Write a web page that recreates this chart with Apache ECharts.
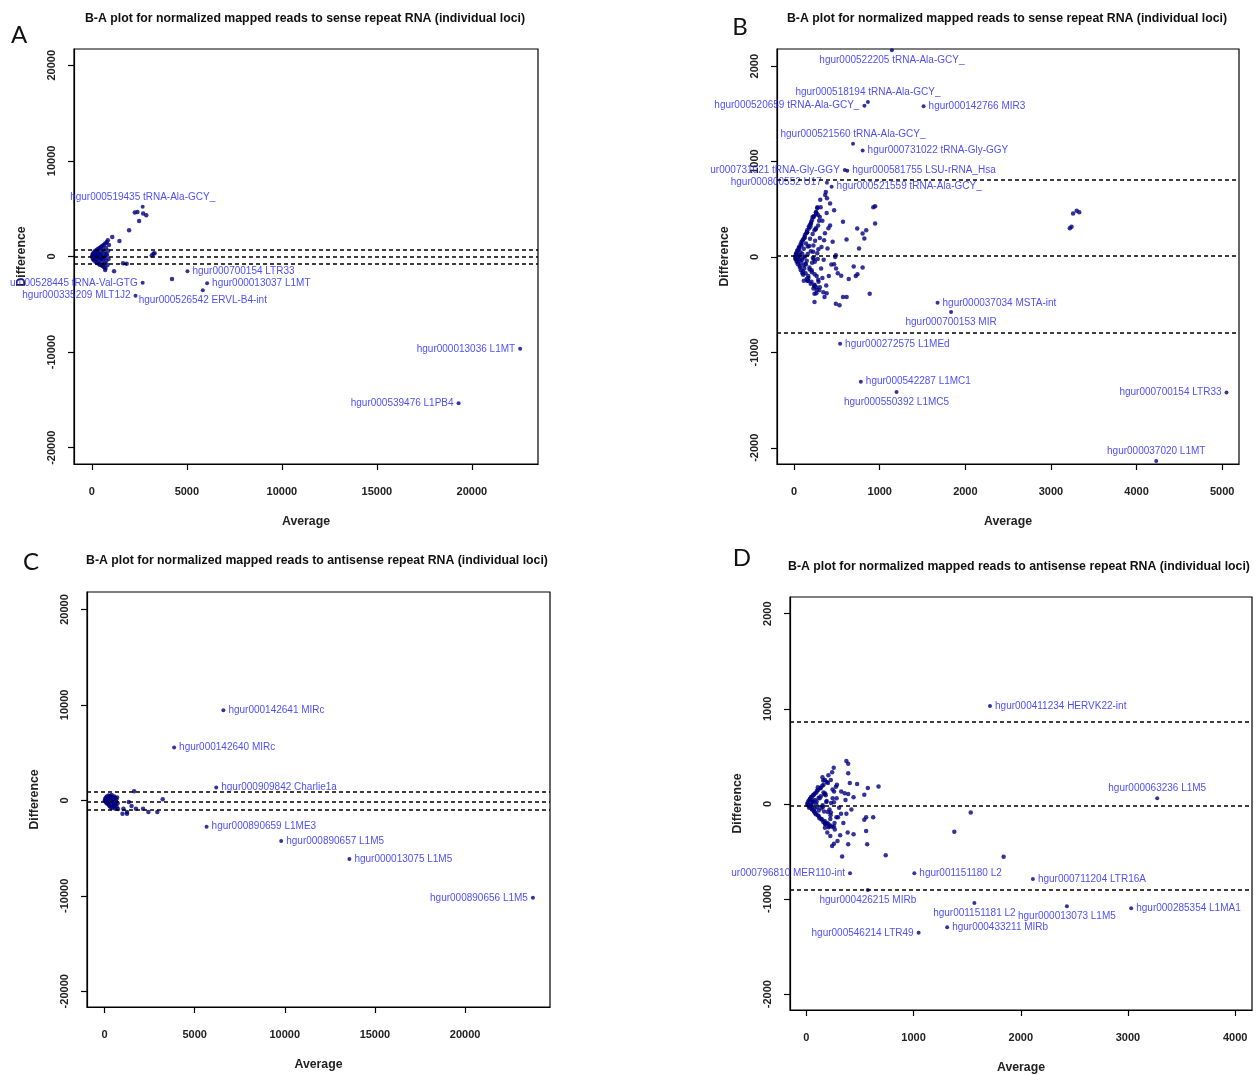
<!DOCTYPE html>
<html>
<head>
<meta charset="utf-8">
<title>B-A plots</title>
<script src="https://cdn.jsdelivr.net/npm/echarts@6/dist/echarts.min.js"></script>
<style>
  html, body { margin:0; padding:0; background:#fff; }
  #main { width:1260px; height:1075px; }
</style>
</head>
<body>
<div id="main"></div>
<script>
// ---------- panel A : sense repeat RNA, full range ----------
var aX = [20,30,40,60,70,90,110,120,140,160,180,190,210,230,250,270,280,300,320,340,350,370,390,410,420,440,460,480,490,510,530,550,560,580,600,620,640,660,680,700,720,740,760,780,800,820,840,860,880,900,
          150,260,330,470,520,610,690,750,
          1073,1450,1960,700,1168,1640,1830,3240,3150,3300,4218,2260,2486,2862,2700,2400];
var aY = [0,150,-120,300,-280,50,450,-400,200,-150,600,-550,350,-300,100,700,-650,450,-100,800,-750,250,-400,900,-850,550,-200,1000,-900,300,-600,1100,-1000,700,-300,1200,-1100,450,-700,1350,-1200,900,-450,1500,150,-900,1700,600,-250,1200,
          -20,40,-60,120,-180,30,-90,250,
          2035,1614,2740,-1400,-1540,-700,-770,280,100,350,-2350,4600,3720,4315,4500,4650];
var aLabX = [2674,5030,2674,6064,2298,5838,22540,19300];
var aLabY = [5190,-1540,-2750,-2800,-4100,-3520,-9655,-15345];
var aLabName = ['hgur000519435 tRNA-Ala-GCY_','hgur000700154 LTR33','ur000528445 tRNA-Val-GTG','hgur000013037 L1MT',
                'hgur000335209 MLT1J2','hgur000526542 ERVL-B4-int','hgur000013036 L1MT','hgur000539476 L1PB4'];
var aLabSide = ['top','right','left','right','left','bottom','left','left'];
var aLines = [660, -70, -800];

// ---------- panel B : sense repeat RNA, zoomed ----------
var bX = [12,18,25,33,41,47,55,62,68,75,83,88,95,102,108,115,121,128,134,141,147,153,160,167,174,181,188,195,203,211,219,228,236,245,254,263,272,283,294,305,
          15,22,29,37,44,52,58,66,73,79,86,93,99,106,113,119,126,132,139,146,152,159,165,172,179,186,193,200,208,216,225,233,242,251,260,270,281,292,
          30,45,60,72,85,97,110,123,137,150,163,176,190,205,222,238,256,275,
          210,225,240,255,270,285,300,315,330,345,360,375,390,405,420,435,450,215,265,310,355,230,280,330,380,
          196,238,258,280,300,363,384,370,467,571,612,737,842,946,800,820,758,487,480,925,946,350,320,400,420,
          3258,3300,3330,3240,3220,
          467,490,510,550,696,800,740,720,638,113,154,238,258,300,342,380,238,238,571,613,883,487,530];
var bY = [8,-22,40,-35,70,-15,95,20,-110,130,-60,160,35,-150,185,-90,210,5,-170,250,-40,280,110,-220,300,-130,340,60,-260,390,-10,420,-300,170,470,-200,520,80,-350,600,
          -18,35,-50,65,-75,10,105,-95,50,-140,120,-30,175,-185,85,-120,230,-70,140,-230,260,30,-200,320,-110,190,-280,370,-160,240,-330,430,-50,290,-380,510,-240,380,
          22,-55,90,-25,140,-170,-5,200,-80,260,-250,115,320,-140,55,-310,450,-20,
          -60,120,-180,300,40,-260,200,-120,380,-30,250,-300,90,-200,330,-80,160,420,-350,520,-420,-20,330,-220,460,
          350,280,470,440,420,650,615,680,490,368,182,298,280,350,245,193,88,18,0,520,533,175,105,300,560,
          456,485,470,316,300,
          -75,-120,-170,-197,-100,-110,-180,-200,-230,-250,-250,-290,-317,-317,-370,-380,-386,-472,-420,-420,-386,-490,-507];
var bLabX = [1142,862,821,1512,688,800,592,621,383,438,1675,1833,537,779,1196,5050,4229];
var bLabY = [2168,1625,1586,1580,1186,1116,912,905,779,737,-480,-576,-910,-1307,-1414,-1421,-2138];
var bLabName = ['hgur000522205 tRNA-Ala-GCY_','hgur000518194 tRNA-Ala-GCY_','hgur000520659 tRNA-Ala-GCY_','hgur000142766 MIR3',
                'hgur000521560 tRNA-Ala-GCY_','hgur000731022 tRNA-Gly-GGY','ur000731021 tRNA-Gly-GGY','hgur000581755 LSU-rRNA_Hsa',
                'hgur000800552 U17','hgur000521559 tRNA-Ala-GCY_','hgur000037034 MSTA-int','hgur000700153 MIR',
                'hgur000272575 L1MEd','hgur000542287 L1MC1','hgur000550392 L1MC5','hgur000700154 LTR33','hgur000037020 L1MT'];
var bLabSide = ['bottom','top','left','right','top','right','left','right','left','right','right','bottom','right','right','bottom','left','top'];
var bLines = [810, 10, -790];

// ---------- panel C : antisense repeat RNA, full range ----------
var cX = [20,40,60,80,100,120,140,160,180,200,220,240,260,280,300,320,340,360,380,400,420,440,460,480,500,520,540,560,580,600,620,650,680,700,730,750,
          90,170,250,330,410,490,570,640,
          1644,1346,1050,1250,1000,1250,1743,2139,2436,2931,3228,1500];
var cY = [0,150,-120,300,-250,80,400,-350,200,-100,500,-450,300,-600,100,450,-700,250,-300,550,-800,0,350,-500,150,-650,400,-200,-850,250,-450,100,-700,300,-300,-900,
          -30,60,-200,150,-80,20,-350,-120,
          950,-176,-880,-1230,-1400,-1400,-880,-880,-1232,-1232,106,-600];
var cLabX = [6594,3861,6198,5663,9802,13584,23762];
var cLabY = [9437,5528,1338,-2762,-4266,-6154,-10210];
var cLabName = ['hgur000142641 MIRc','hgur000142640 MIRc','hgur000909842 Charlie1a','hgur000890659 L1ME3',
                'hgur000890657 L1M5','hgur000013075 L1M5','hgur000890656 L1M5'];
var cLabSide = ['right','right','right','right','right','right','left'];
var cLines = [880, -180, -990];

// ---------- panel D : antisense repeat RNA, zoomed ----------
var dX = [8,14,20,27,34,40,47,53,60,66,73,80,87,93,100,108,116,124,133,142,151,160,170,180,191,203,215,228,242,258,275,295,
          12,19,26,32,39,45,52,58,65,71,78,85,92,99,106,114,122,131,140,149,158,168,178,189,201,214,228,244,262,282,
          35,55,75,95,115,135,155,175,200,230,
          150,165,185,205,225,245,265,285,305,325,345,365,385,405,420,195,255,315,160,280,
          373,390,390,240,157,173,473,573,673,107,357,390,440,540,257,
          323,373,557,623,540,223,173,207,257,140,190,173,223,223,257,240,290,390,440,557,567,740,333,1380,1840,1533];
var dY = [5,-15,30,-28,55,-10,75,-60,20,95,-85,40,-110,120,-35,145,-130,60,170,-160,-15,200,-180,90,230,-210,-60,250,-240,130,180,-140,
          -8,22,-40,48,-20,70,-55,12,90,-75,110,-95,-5,140,-120,65,-150,165,-45,190,-190,105,-215,30,220,-235,-90,150,-200,60,
          -20,35,-45,25,-70,80,-30,110,-85,10,
          280,-80,20,300,-120,60,-270,200,-40,130,-200,40,-300,220,-60,-300,380,-330,120,-140,
          450,421,323,333,245,250,210,168,182,175,112,105,70,95,17,
          -105,-105,-140,-140,-168,-158,-210,-245,-238,-164,-198,-251,-226,-338,-420,-443,-390,-425,-320,-286,-425,-540,-554,-293,-557,-91];
var dLabX = [1713,3273,407,1007,2113,573,1567,2430,3030,1313,1047];
var dLabY = [1028,60,-728,-728,-791,-906,-1042,-1077,-1098,-1296,-1355];
var dLabName = ['hgur000411234 HERVK22-int','hgur000063236 L1M5','ur000796810 MER110-int','hgur001151180 L2',
                'hgur000711204 LTR16A','hgur000426215 MIRb','hgur001151181 L2','hgur000013073 L1M5',
                'hgur000285354 L1MA1','hgur000433211 MIRb','hgur000546214 LTR49'];
var dLabSide = ['right','top','left','right','right','bottom','bottom','bottom','right','right','left'];
var dLines = [860, -15, -900];

// tick labels
var xTicksWide = [0, 5000, 10000, 15000, 20000];
var yTicksWide = [-20000, -10000, 0, 10000, 20000];
var xTicksB = [0, 1000, 2000, 3000, 4000, 5000];
var xTicksD = [0, 1000, 2000, 3000, 4000];
var yTicksNarrow = [-2000, -1000, 0, 1000, 2000];

var titleSense = 'B-A plot for normalized mapped reads to sense repeat RNA (individual loci)';
var titleAnti = 'B-A plot for normalized mapped reads to antisense repeat RNA (individual loci)';

var FONT = '"Liberation Sans", Arial, sans-serif';
var NAVY = '#000080';

var panels = [
  {grid:{left:74, top:49, width:464, height:415}, x:[-940,23480], y:[-21700,21700], xt:xTicksWide, yt:yTicksWide,
   px:aX, py:aY, lx:aLabX, ly:aLabY, ln:aLabName, ls:aLabSide, lines:aLines},
  {grid:{left:777, top:49, width:462, height:415}, x:[-200,5196], y:[-2170,2180], xt:xTicksB, yt:yTicksNarrow,
   px:bX, py:bY, lx:bLabX, ly:bLabY, ln:bLabName, ls:bLabSide, lines:bLines},
  {grid:{left:87, top:592, width:463, height:415}, x:[-970,24710], y:[-21650,21830], xt:xTicksWide, yt:yTicksWide,
   px:cX, py:cY, lx:cLabX, ly:cLabY, ln:cLabName, ls:cLabSide, lines:cLines},
  {grid:{left:790, top:597, width:462, height:415}, x:[-153,4157], y:[-2167,2175], xt:xTicksD, yt:yTicksNarrow,
   px:dX, py:dY, lx:dLabX, ly:dLabY, ln:dLabName, ls:dLabSide, lines:dLines}
];

function pairs(xs, ys) {
  return xs.map(function(x, i){ return [x, ys[i]]; });
}
function labeled(xs, ys, names, sides) {
  return xs.map(function(x, i){
    return {name: names[i], value: [x, ys[i]], label: {position: sides[i]}};
  });
}
function plain(v) { return String(v); }   // no thousands separators, like R

var grids = [], xAxes = [], yAxes = [], series = [];
panels.forEach(function(p, i){
  grids.push({left:p.grid.left, top:p.grid.top, width:p.grid.width, height:p.grid.height,
              show:true, borderColor:'#000', borderWidth:1.2, backgroundColor:'transparent'});
  xAxes.push({
    gridIndex:i, type:'value', min:p.x[0], max:p.x[1],
    axisLine:{show:true, onZero:false, lineStyle:{color:'#000', width:1.2}},
    axisTick:{show:true, inside:false, length:6, customValues:p.xt, lineStyle:{color:'#000', width:1.2}},
    axisLabel:{customValues:p.xt, formatter:plain, margin:22, fontSize:11, fontWeight:'bold', color:'#222', fontFamily:FONT},
    splitLine:{show:false},
    name:'Average', nameLocation:'middle', nameGap:52,
    nameTextStyle:{fontSize:12.3, fontWeight:'bold', color:'#222', fontFamily:FONT}
  });
  yAxes.push({
    gridIndex:i, type:'value', min:p.y[0], max:p.y[1],
    axisLine:{show:true, onZero:false, lineStyle:{color:'#000', width:1.2}},
    axisTick:{show:true, inside:false, length:6, customValues:p.yt, lineStyle:{color:'#000', width:1.2}},
    axisLabel:{customValues:p.yt, formatter:plain, rotate:90, margin:17, fontSize:11, fontWeight:'bold', color:'#222', fontFamily:FONT},
    splitLine:{show:false},
    name:'Difference', nameLocation:'middle', nameGap:46,
    nameTextStyle:{fontSize:12.3, fontWeight:'bold', color:'#222', fontFamily:FONT}
  });
  series.push({
    type:'scatter', xAxisIndex:i, yAxisIndex:i, data:pairs(p.px, p.py),
    symbol:'circle', symbolSize:4.5, itemStyle:{color:NAVY}, silent:true,
    markLine:{
      silent:true, symbol:['none','none'], label:{show:false},
      lineStyle:{type:[4,3], color:'#000', width:1.5},
      data:p.lines.map(function(v){ return {yAxis:v}; })
    }
  });
  series.push({
    type:'scatter', xAxisIndex:i, yAxisIndex:i, data:labeled(p.lx, p.ly, p.ln, p.ls),
    symbol:'circle', symbolSize:4, itemStyle:{color:NAVY}, silent:true,
    label:{show:true, formatter:'{b}', color:'#2222ff', fontSize:10, distance:3, fontFamily:FONT}
  });
});

function txt(s, x, y, font) {
  return {type:'text', x:x, y:y, silent:true,
          style:{text:s, fill:'#111', font:font, align:'center', verticalAlign:'middle',
                 textAlign:'center', textVerticalAlign:'middle'}};
}
var tFont = 'bold 12.3px ' + FONT;
var lFont = '24px Lato, "Liberation Sans", sans-serif';

var option = {
  backgroundColor:'#fff',
  animation:false,
  grid:grids, xAxis:xAxes, yAxis:yAxes, series:series,
  graphic:[
    txt(titleSense, 305, 19, tFont),
    txt(titleSense, 1007, 19, tFont),
    txt(titleAnti, 317, 561, tFont),
    txt(titleAnti, 1019, 567, tFont),
    txt('A', 19, 35, lFont),
    txt('B', 740, 27, lFont),
    txt('C', 31, 562, lFont),
    txt('D', 742, 558, lFont)
  ]
};

var chart = echarts.init(document.getElementById('main'));
chart.setOption(option);
</script>
</body>
</html>
